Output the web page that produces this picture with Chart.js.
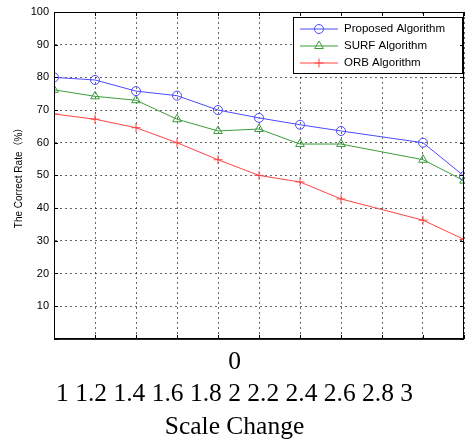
<!DOCTYPE html>
<html>
<head>
<meta charset="utf-8">
<script src="https://cdn.jsdelivr.net/npm/chart.js@4/dist/chart.umd.min.js"></script>
<style>
  html, body { margin: 0; padding: 0; background: #fff; }
  #wrap { width: 470px; height: 443px; }
</style>
</head>
<body>
<div id="wrap"><canvas id="rateChart"></canvas></div>
<script>
// scale factors that were tested (2.6 has no measurement)
const scaleSteps = [1, 1.2, 1.4, 1.6, 1.8, 2, 2.2, 2.4, 2.8, 3];
const xTicks = [1, 1.2, 1.4, 1.6, 1.8, 2, 2.2, 2.4, 2.6, 2.8, 3];

const proposed = [80, 79.2, 75.8, 74.4, 70, 67.6, 65.5, 63.6, 60, 49.8];
const surf = [76.2, 74.2, 73, 67.2, 63.6, 64.2, 59.6, 59.6, 54.8, 48.4];
const orb = [68.8, 67.2, 64.6, 60, 54.8, 50, 48, 42.8, 36.3, 30.4];

const seriesNames = ['Proposed Algorithm', 'SURF Algorithm', 'ORB Algorithm'];

function toPoints(values) {
    return values.map((v, i) => ({ x: scaleSteps[i], y: v }));
}

// boxed legend in the top right corner of the plot
const boxLegend = {
    id: 'boxLegend',
    afterDatasetsDraw(chart) {
        const ctx = chart.ctx;
        const area = chart.chartArea;
        const w = 169, h = 56;
        const x0 = area.right - 2 - w;
        const y0 = area.top + 5;
        ctx.save();
        ctx.fillStyle = '#fff';
        ctx.fillRect(x0, y0, w, h);
        ctx.strokeStyle = '#000';
        ctx.lineWidth = 1;
        ctx.strokeRect(x0 + 0.5, y0 + 0.5, w, h);
        ctx.font = '11.5px "Liberation Sans", Arial, sans-serif';
        ctx.textBaseline = 'middle';
        chart.data.datasets.forEach((ds, i) => {
            const cy = y0 + 12 + i * 17;
            ctx.strokeStyle = ds.borderColor;
            ctx.lineWidth = 1;
            ctx.beginPath();
            ctx.moveTo(x0 + 7, cy);
            ctx.lineTo(x0 + 45, cy);
            ctx.stroke();
            ctx.fillStyle = 'rgba(0,0,0,0)';
            Chart.helpers.drawPoint(ctx, {
                pointStyle: ds.pointStyle,
                radius: ds.pointRadius,
                borderWidth: 1
            }, x0 + 26, cy);
            ctx.fillStyle = '#000';
            ctx.fillText(ds.label, x0 + 51, cy);
        });
        ctx.restore();
    }
};

// frame round the plot with small inward ticks on all four sides
const axesFrame = {
    id: 'axesFrame',
    afterDraw(chart) {
        const ctx = chart.ctx;
        const a = chart.chartArea;
        const xs = chart.scales.x, ys = chart.scales.y;
        ctx.save();
        ctx.strokeStyle = '#000';
        ctx.lineWidth = 1;
        ctx.strokeRect(a.left + 0.5, a.top + 0.5, a.right - a.left - 1, a.bottom - a.top);
        ctx.beginPath();
        xs.ticks.forEach(t => {
            const px = Math.round(xs.getPixelForValue(t.value)) + 0.5;
            ctx.moveTo(px, a.bottom);
            ctx.lineTo(px, a.bottom - 4);
            ctx.moveTo(px, a.top);
            ctx.lineTo(px, a.top + 4);
        });
        ys.ticks.forEach(t => {
            const py = Math.round(ys.getPixelForValue(t.value)) + 0.5;
            ctx.moveTo(a.left, py);
            ctx.lineTo(a.left + 4, py);
            ctx.moveTo(a.right, py);
            ctx.lineTo(a.right - 4, py);
        });
        ctx.stroke();
        ctx.restore();
    }
};

const data = {
    datasets: [
    {
        label: seriesNames[0],
        data: toPoints(proposed),
        borderColor: '#4b4bff',
        backgroundColor: 'rgba(0,0,0,0)',
        pointStyle: 'circle',
        pointRadius: 4.5,
    },
    {
        label: seriesNames[1],
        data: toPoints(surf),
        borderColor: '#3c9c3c',
        backgroundColor: 'rgba(0,0,0,0)',
        pointStyle: 'triangle',
        pointRadius: 5,
    },
    {
        label: seriesNames[2],
        data: toPoints(orb),
        borderColor: '#ff4444',
        backgroundColor: 'rgba(0,0,0,0)',
        pointStyle: 'cross',
        pointRadius: 4.5,
    },
]
};

const gridStyle = {
    color: 'rgba(0,0,0,0.6)',
    lineWidth: 1,
    drawTicks: false,
};

const config = {
    type: 'line',
    data: data,
    options: {
        responsive: true,
        maintainAspectRatio: false,
        animation: false,
        layout: { padding: { top: 12, right: 1, left: 0, bottom: 0 } },
        elements: {
            line: { borderWidth: 1, tension: 0, fill: false },
            point: { borderWidth: 1, hoverRadius: 5 }
        },
        scales: {
            x: {
                type: 'linear',
                min: 1,
                max: 3,
                ticks: { display: false, stepSize: 0.2 },
                grid: gridStyle,
                border: { display: true, color: '#000', dash: [2, 3] },
                afterFit(scale) { scale.height = 0; }
            },
            y: {
                min: 0,
                max: 100,
                ticks: {
                    stepSize: 10,
                    padding: 5,
                    color: '#000',
                    font: { family: '"Liberation Sans", Arial, sans-serif', size: 11 },
                    callback: v => (v === 0 ? '' : v)
                },
                grid: gridStyle,
                border: { display: true, color: '#000', dash: [2, 3] },
                title: {
                    display: true,
                    text: 'The Correct Rate（%）',
                    color: '#000',
                    font: { family: '"Liberation Sans", "Noto Sans CJK SC", sans-serif', size: 10 },
                    padding: { top: 13, bottom: 0 }
                },
                afterFit(scale) { scale.width = 54; }
            }
        },
        plugins: {
            legend: { display: false },
            tooltip: { enabled: false },
            title: {
                display: true,
                position: 'bottom',
                text: ['0', xTicks.join(' '), 'Scale Change'],
                color: '#000',
                font: { family: '"Liberation Serif", "Times New Roman", serif', size: 25.5, weight: 'normal', lineHeight: 1.27 },
                padding: { top: 7, bottom: 0 }
            }
        }
    },
    plugins: [boxLegend, axesFrame]
};

// dotted grid lines
config.options.scales.x.grid.borderDash = [2, 3];
config.options.scales.y.grid.borderDash = [2, 3];

if(document.getElementById('rateChart') != null){
    new Chart(
        document.getElementById('rateChart'),
        config
    );
}
</script>
</body>
</html>
